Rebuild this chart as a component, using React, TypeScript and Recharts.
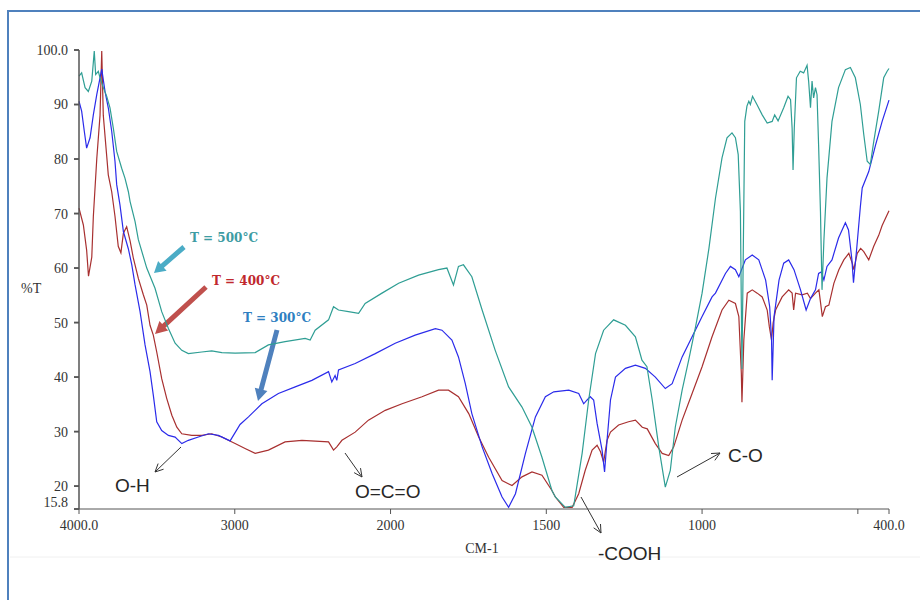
import React from 'react';
import { LineChart, Line, XAxis, YAxis } from 'recharts';

// ---- T = 500 °C (teal) ----
const wn500 = [4000, 3983, 3961, 3940, 3918, 3902, 3893, 3876, 3865, 3844, 3822, 3801, 3780, 3758, 3726, 3705, 3683, 3672, 3640, 3619, 3565, 3512, 3469, 3426, 3383, 3340, 3298, 3212, 3148, 3083, 2998, 2869, 2784, 2677, 2548, 2516, 2484, 2398, 2366, 2334, 2270, 2205, 2163, 2055, 1974, 1910, 1846, 1819, 1798, 1782, 1766, 1739, 1706, 1664, 1621, 1578, 1546, 1514, 1482, 1471, 1439, 1412, 1385, 1364, 1342, 1316, 1284, 1246, 1214, 1193, 1177, 1160, 1139, 1118, 1102, 1086, 1064, 1043, 1021, 1000, 978, 957, 936, 920, 904, 893, 884, 877, 872, 863, 856, 850, 845, 838, 824, 807, 791, 775, 767, 756, 738, 724, 716, 711, 708, 704, 697, 685, 674, 663, 658, 652, 647, 642, 636, 631, 626, 620, 615, 609, 599, 583, 562, 540, 524, 508, 492, 481, 470, 460, 449, 433, 417, 406, 400];
const t500 = [95.2, 95.8, 93.1, 92.4, 94.3, 99.8, 95.5, 96.1, 94.9, 93.1, 91.5, 89.4, 85.7, 81.4, 78.3, 76.5, 74.0, 72.2, 68.5, 65.2, 60.0, 56.3, 52.0, 48.9, 46.2, 44.9, 44.3, 44.6, 44.8, 44.5, 44.4, 44.5, 45.9, 46.5, 47.1, 46.8, 48.6, 50.5, 52.9, 52.3, 52.0, 51.7, 53.5, 55.4, 57.2, 58.7, 59.7, 60.0, 56.9, 60.3, 60.6, 58.4, 52.3, 44.9, 38.2, 34.5, 30.8, 25.3, 19.2, 18.0, 16.1, 16.4, 26.0, 35.8, 44.3, 48.6, 50.5, 49.5, 47.4, 43.1, 41.9, 35.8, 27.2, 19.8, 22.9, 30.8, 37.6, 43.1, 49.2, 55.4, 63.6, 72.8, 80.2, 83.9, 84.8, 83.9, 80.8, 70.4, 41.5, 86.9, 89.7, 90.6, 90.0, 91.5, 90.0, 88.1, 86.6, 86.9, 88.1, 87.0, 89.4, 91.5, 90.9, 85.7, 78.0, 85.7, 94.9, 96.1, 95.8, 97.2, 94.3, 89.4, 94.3, 91.2, 93.1, 91.8, 82.6, 70.4, 56.0, 65.0, 76.5, 86.9, 93.1, 96.4, 96.8, 94.9, 90.0, 84.5, 79.6, 79.0, 83.2, 88.8, 94.9, 96.1, 96.6];

// ---- T = 400 °C (red) ----
const wn400 = [4000, 3972, 3951, 3939, 3918, 3908, 3886, 3865, 3854, 3844, 3822, 3812, 3790, 3769, 3748, 3731, 3715, 3694, 3672, 3651, 3619, 3587, 3565, 3544, 3523, 3501, 3469, 3437, 3404, 3372, 3340, 3276, 3212, 3148, 3083, 3041, 2998, 2934, 2869, 2784, 2677, 2569, 2398, 2366, 2345, 2312, 2227, 2142, 2034, 1963, 1899, 1846, 1814, 1782, 1749, 1717, 1685, 1642, 1610, 1578, 1546, 1514, 1482, 1471, 1444, 1417, 1396, 1375, 1353, 1337, 1326, 1316, 1305, 1294, 1268, 1236, 1214, 1192, 1176, 1150, 1128, 1107, 1091, 1064, 1032, 1000, 968, 936, 914, 893, 882, 874, 872, 866, 855, 839, 823, 807, 791, 784, 777, 772, 764, 743, 722, 711, 706, 700, 679, 662, 652, 636, 625, 614, 604, 593, 577, 561, 545, 529, 518, 513, 502, 491, 481, 465, 449, 433, 422, 400];
const t400 = [71.0, 67.9, 63.3, 58.5, 62.0, 69.4, 80.0, 88.0, 99.8, 88.0, 80.5, 77.1, 74.0, 69.5, 64.0, 62.8, 66.4, 67.6, 65.0, 61.8, 58.1, 55.1, 53.2, 49.5, 47.7, 44.6, 39.7, 36.1, 33.0, 30.8, 29.6, 29.3, 29.3, 29.6, 29.0, 28.4, 27.8, 26.9, 26.0, 26.6, 28.1, 28.4, 28.1, 26.6, 27.2, 28.4, 29.9, 32.1, 33.9, 35.1, 36.4, 37.6, 37.6, 36.4, 33.3, 29.0, 25.3, 21.0, 20.1, 21.7, 22.6, 22.0, 19.2, 18.0, 16.1, 16.1, 18.6, 22.9, 26.6, 27.5, 26.3, 24.4, 28.4, 29.9, 31.2, 31.8, 32.1, 30.8, 30.5, 27.8, 26.0, 25.6, 27.2, 32.1, 37.0, 41.9, 47.4, 52.3, 54.1, 53.5, 51.1, 40.7, 35.4, 46.8, 55.4, 56.0, 55.4, 54.7, 52.3, 49.2, 46.8, 49.9, 52.3, 54.7, 56.0, 55.4, 52.3, 55.4, 55.1, 55.4, 54.4, 55.4, 56.0, 51.1, 52.9, 53.2, 57.2, 59.7, 61.5, 62.7, 60.9, 59.7, 62.7, 63.6, 63.0, 61.5, 64.0, 66.0, 67.8, 70.5];

// ---- T = 300 °C (blue) ----
const wn300 = [4000, 3983, 3966, 3951, 3929, 3908, 3886, 3865, 3854, 3833, 3812, 3790, 3769, 3758, 3737, 3715, 3683, 3661, 3640, 3608, 3576, 3544, 3523, 3501, 3469, 3426, 3383, 3340, 3298, 3234, 3169, 3105, 3030, 2966, 2912, 2826, 2720, 2612, 2505, 2398, 2377, 2356, 2345, 2334, 2227, 2098, 1985, 1921, 1856, 1835, 1803, 1782, 1760, 1739, 1706, 1674, 1642, 1621, 1599, 1567, 1535, 1503, 1476, 1428, 1396, 1380, 1369, 1359, 1348, 1337, 1321, 1313, 1305, 1294, 1278, 1246, 1214, 1182, 1150, 1118, 1096, 1064, 1032, 1000, 968, 957, 925, 909, 893, 882, 861, 839, 818, 796, 783, 777, 775, 769, 753, 738, 722, 705, 684, 666, 652, 636, 626, 617, 609, 599, 583, 562, 540, 530, 519, 514, 503, 492, 486, 465, 443, 422, 400];
const t300 = [90.6, 88.8, 85.1, 82.0, 83.9, 88.1, 91.8, 94.9, 96.5, 92.4, 89.4, 85.1, 79.6, 75.3, 71.6, 66.7, 63.5, 60.6, 56.9, 52.0, 45.9, 41.0, 36.7, 31.8, 30.2, 29.3, 29.0, 27.8, 28.4, 29.0, 29.6, 29.3, 28.3, 31.3, 32.7, 35.1, 37.0, 38.2, 39.4, 41.0, 39.1, 40.3, 39.4, 41.3, 42.5, 44.3, 46.2, 47.7, 48.9, 48.6, 46.8, 43.7, 38.8, 33.3, 27.2, 22.3, 18.0, 16.1, 18.6, 26.0, 32.7, 36.4, 37.3, 37.6, 37.0, 35.1, 35.8, 36.4, 35.8, 31.5, 26.6, 22.6, 28.4, 35.8, 40.0, 41.6, 42.2, 41.6, 40.0, 37.9, 38.8, 43.7, 47.4, 51.1, 54.7, 55.4, 59.0, 60.3, 59.7, 58.4, 61.5, 62.4, 61.5, 57.8, 52.9, 46.8, 39.4, 51.1, 57.8, 60.9, 61.5, 59.7, 56.0, 52.3, 54.4, 56.0, 59.0, 59.3, 57.8, 60.3, 61.5, 65.5, 68.3, 67.0, 61.5, 57.3, 64.0, 71.2, 74.7, 77.7, 82.6, 86.9, 90.8];

// ---- axis ticks ----
const xTickValues = [4000, 3000, 2000, 1500, 1000, 500, 400];
const xTickLabels = ['4000.0', '3000', '2000', '1500', '1000', '', '400.0'];
const yTickValues = [15.8, 20, 30, 40, 50, 60, 70, 80, 90, 100];
const yTickLabels = ['15.8', '20', '30', '40', '50', '60', '70', '80', '90', '100.0'];

// FTIR abscissa: 2x expansion below 2000 cm-1
const toAxis = (wn: number) => (wn >= 2000 ? 4000 - wn : 2000 + 2 * (2000 - wn));
const build = (wn: number[], t: number[]) => wn.map((w, i) => ({ x: toAxis(w), wn: w, t: t[i] }));

const data500 = build(wn500, t500);
const data400 = build(wn400, t400);
const data300 = build(wn300, t300);
const xTickPos = xTickValues.map(toAxis);

const TICK_FONT = '"Liberation Serif", "DejaVu Serif", serif';
const AXIS_COLOR = '#555';

const YTick = (props: any) => {
  const { x, y, payload } = props;
  const idx = yTickValues.indexOf(payload.value);
  const label = idx >= 0 ? yTickLabels[idx] : '';
  const shift = payload.value === 15.8 ? -7 : 0;
  return (
    <g>
      <line x1={x + 6} y1={y} x2={x + 11} y2={y} stroke={AXIS_COLOR} strokeWidth={1.5} />
      <text x={x} y={y + shift} dy="0.355em" textAnchor="end" fontFamily={TICK_FONT} fontSize={14} fill="#333">
        {label}
      </text>
    </g>
  );
};

const blockArrow = (x1: number, y1: number, x2: number, y2: number, sw: number, hw: number, hl: number) => {
  const len = Math.hypot(x2 - x1, y2 - y1);
  const dx = (x2 - x1) / len;
  const dy = (y2 - y1) / len;
  const nx = -dy;
  const ny = dx;
  const bx = x2 - dx * hl;
  const by = y2 - dy * hl;
  const pts = [
    [x1 + nx * sw / 2, y1 + ny * sw / 2],
    [bx + nx * sw / 2, by + ny * sw / 2],
    [bx + nx * hw / 2, by + ny * hw / 2],
    [x2, y2],
    [bx - nx * hw / 2, by - ny * hw / 2],
    [bx - nx * sw / 2, by - ny * sw / 2],
    [x1 - nx * sw / 2, y1 - ny * sw / 2],
  ];
  return pts.map((p) => p[0].toFixed(1) + ',' + p[1].toFixed(1)).join(' ');
};

const thinArrow = (x1: number, y1: number, x2: number, y2: number) => {
  const ang = Math.atan2(y2 - y1, x2 - x1);
  const hl = 9;
  const a1 = ang + Math.PI - 0.45;
  const a2 = ang + Math.PI + 0.45;
  return `M${x1},${y1} L${x2},${y2} M${x2 + hl * Math.cos(a1)},${y2 + hl * Math.sin(a1)} L${x2},${y2} L${x2 + hl * Math.cos(a2)},${y2 + hl * Math.sin(a2)}`;
};

const ANN_FONT = '"Liberation Sans", Arial, sans-serif';
const T_FONT = '"DejaVu Serif", serif';

export default function App() {
  return (
    <div style={{ position: 'absolute', left: 0, top: 0, width: 920, height: 600, background: '#fff' }}>
      <svg width={920} height={600} style={{ position: 'absolute', left: 0, top: 0, pointerEvents: 'none' }}>
        <path d="M8,605 L8,11 L925,11" fill="none" stroke="#4f81bd" strokeWidth={2} />
        <line x1={10} y1={557} x2={920} y2={557} stroke="#f0f0f0" strokeWidth={1} />
        <text x={21} y={293} fontFamily={TICK_FONT} fontSize={14} fill="#333">%T</text>
        <text x={482} y={553} textAnchor="middle" fontFamily={TICK_FONT} fontSize={14} fill="#333">CM-1</text>

        <polygon points={blockArrow(184, 247, 154, 273, 5, 13, 11)} fill="#4bacc6" />
        <polygon points={blockArrow(206, 287, 155, 334, 5, 13, 12)} fill="#c0504d" />
        <polygon points={blockArrow(277, 330, 258, 401, 5, 13, 12)} fill="#4f81bd" />
        <text x={190} y={242} fontFamily={T_FONT} fontWeight="bold" fontSize={12} fill="#3d9ca3">T = 500°C</text>
        <text x={212} y={285} fontFamily={T_FONT} fontWeight="bold" fontSize={12} fill="#c0282d">T = 400°C</text>
        <text x={243} y={322} fontFamily={T_FONT} fontWeight="bold" fontSize={12} fill="#2f7fc1">T = 300°C</text>

        <path d={thinArrow(181, 447, 155, 472)} fill="none" stroke="#333" strokeWidth={1} />
        <path d={thinArrow(345, 453, 362, 477)} fill="none" stroke="#333" strokeWidth={1} />
        <path d={thinArrow(581, 497, 601, 533)} fill="none" stroke="#333" strokeWidth={1} />
        <path d={thinArrow(677, 477, 720, 453)} fill="none" stroke="#333" strokeWidth={1} />
        <text x={115} y={492} fontFamily={ANN_FONT} fontSize={19} fill="#262626">O-H</text>
        <text x={355} y={498} fontFamily={ANN_FONT} fontSize={19} fill="#262626">O=C=O</text>
        <text x={598} y={560} fontFamily={ANN_FONT} fontSize={19} fill="#262626">-COOH</text>
        <text x={728} y={462} fontFamily={ANN_FONT} fontSize={19} fill="#262626">C-O</text>
      </svg>
      <LineChart width={920} height={600} margin={{ top: 50, right: 31, bottom: 61, left: 19 }}>
        <XAxis
          dataKey="x"
          type="number"
          domain={[0, 5200]}
          ticks={xTickPos}
          interval={0}
          tickSize={5}
          tickMargin={6}
          height={30}
          stroke={AXIS_COLOR}
          tick={{ fontFamily: TICK_FONT, fontSize: 14, fill: '#333' }}
          tickFormatter={(v: number) => xTickLabels[xTickPos.indexOf(v)] ?? ''}
        />
        <YAxis
          type="number"
          domain={[15.8, 100]}
          ticks={yTickValues}
          interval={0}
          tick={YTick}
          tickSize={5}
          tickMargin={6}
          width={60}
          axisLine={{ stroke: AXIS_COLOR, strokeWidth: 1.5 }}
          tickLine={{ stroke: AXIS_COLOR, strokeWidth: 1.5 }}
        />
        <Line data={data400} dataKey="t" type="linear" stroke="#a83030" strokeWidth={1.2} dot={false} activeDot={false} isAnimationActive={false} />
        <Line data={data300} dataKey="t" type="linear" stroke="#2b2bea" strokeWidth={1.2} dot={false} activeDot={false} isAnimationActive={false} />
        <Line data={data500} dataKey="t" type="linear" stroke="#2f9e94" strokeWidth={1.2} dot={false} activeDot={false} isAnimationActive={false} />
      </LineChart>
    </div>
  );
}
